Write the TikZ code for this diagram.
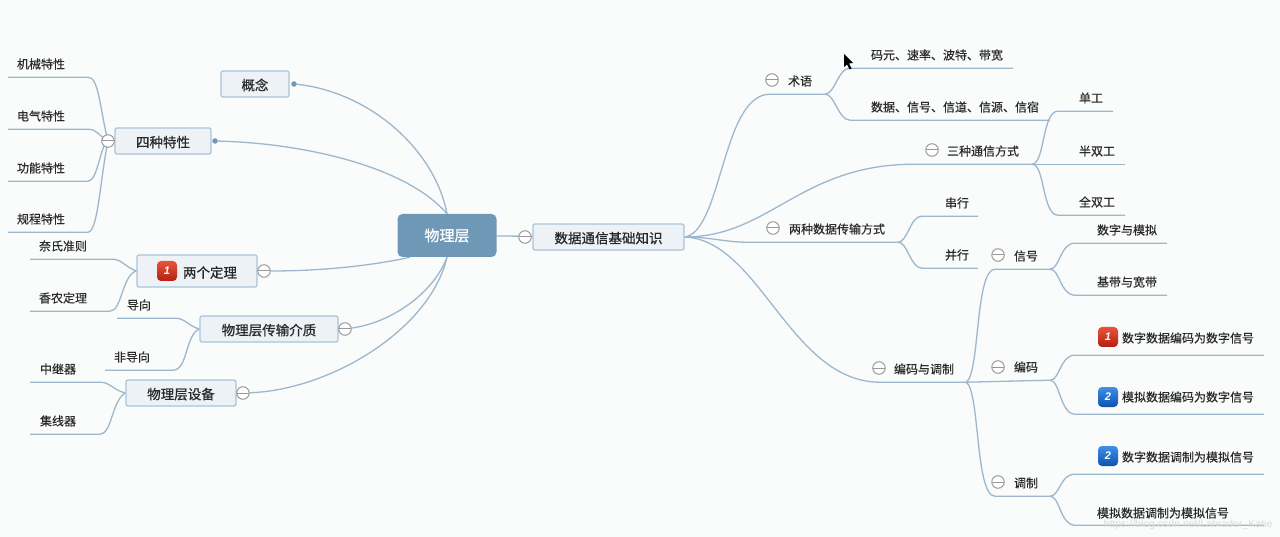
\documentclass[tikz,border=0pt]{standalone}
\usepackage{fontspec}
\setmainfont{Noto Sans CJK SC}
\newfontfamily\latinfont{Liberation Sans}
\newfontfamily\leaffont[FakeBold=0.35]{Noto Sans CJK SC}
\newfontfamily\topicfont[FakeBold=0.9]{Noto Sans CJK SC}
\usetikzlibrary{backgrounds}
\definecolor{paper}{HTML}{FAFBFB}
\definecolor{linkblue}{HTML}{9DB8CD}
\definecolor{boxline}{HTML}{A9C4DA}
\definecolor{boxfill}{HTML}{EDF2F7}
\definecolor{rootfill}{HTML}{6F98B6}
\definecolor{inkgray}{HTML}{2A2A2A}
\definecolor{redtop}{HTML}{E8543A}
\definecolor{redlow}{HTML}{B5200F}
\definecolor{bluetop}{HTML}{3F90EA}
\definecolor{bluelow}{HTML}{0E50AE}
\tikzset{
  link/.style={draw=linkblue, line width=1.3pt},
  leaf/.style={minimum height=26pt, inner sep=0pt, text=inkgray, font=\leaffont\fontsize{12}{12}\selectfont},
  topic/.style={draw=boxline, line width=1.2pt, fill=boxfill, rounded corners=2pt, inner sep=0pt, text=inkgray, text height=13pt, text depth=.5pt, font=\topicfont\fontsize{13.5}{14}\selectfont},
  fold/.style={circle, draw=gray!80, line width=1pt, fill=white, minimum size=12.5pt, inner sep=0pt,
    path picture={\draw[gray!80, line width=1pt] (path picture bounding box.west) -- (path picture bounding box.east);}},
  knob/.style={circle, fill=rootfill, minimum size=5.5pt, inner sep=0pt},
  prio/.style={rounded corners=4pt, minimum size=20pt, inner sep=0pt, text=white, font=\latinfont\fontsize{11}{12}\selectfont\bfseries\itshape},
  priored/.style={prio, top color=redtop, bottom color=redlow},
  prioblue/.style={prio, top color=bluetop, bottom color=bluelow}
}
\begin{document}
\begin{tikzpicture}[x = 1pt, y = -1pt]
\useasboundingbox (0,0) rectangle (1280,537);
\begin{scope}[on background layer]
\fill[paper] (0,0) rectangle (1280,537);
\end{scope}
% Root
\node[rounded corners=5pt, fill=rootfill, text=white, minimum width=99pt, minimum height=43pt, inner sep=0pt, font=\topicfont\fontsize{15}{16}\selectfont] (root) at (447,235.5) {物理层};
% Left topics
\node[topic, minimum width=68pt, minimum height=26pt] (concept) at (255,84) {概念};
\node[knob] (conceptdot) at (294,84) {};
\node[topic, minimum width=96pt, minimum height=26pt] (fourprop) at (163,141) {四种特性};
\node[knob] (fourdot) at (215,141) {};
\node[fold] (fourfold) at (108,141) {};
\node[topic, minimum width=120pt, minimum height=32pt] (theorem) at (197,271) {};
\node[priored] (theoremicon) at (167,271) {1};
\node[leaf, font=\topicfont\fontsize{13.5}{14}\selectfont] (theoremtext) at (210,272.5) {两个定理};
\node[fold] (theoremfold) at (264,271) {};
\node[topic, minimum width=138pt, minimum height=26pt] (media) at (269,329) {物理层传输介质};
\node[fold] (mediafold) at (345,329) {};
\node[topic, minimum width=110pt, minimum height=26pt] (device) at (181,393) {物理层设备};
\node[fold] (devicefold) at (243,393) {};
% Left leaves
\node[leaf] (mech) at (41,64) {机械特性};
\node[leaf] (elec) at (41,116) {电气特性};
\node[leaf] (func) at (41,168) {功能特性};
\node[leaf] (proc) at (41,219) {规程特性};
\node[leaf] (nyq) at (63,246) {奈氏准则};
\node[leaf] (shannon) at (63,298) {香农定理};
\node[leaf] (guided) at (139,305) {导向};
\node[leaf] (unguided) at (132,357) {非导向};
\node[leaf] (repeater) at (58,369) {中继器};
\node[leaf] (hubdev) at (58,421) {集线器};
% Hub
\node[topic, minimum width=151pt, minimum height=26pt] (basics) at (608.5,237) {数据通信基础知识};
\node[fold] (basicsfold) at (525,237) {};
% Right branches
\node[fold] (termfold) at (772,80) {};
\node[leaf] (term) at (800,81) {术语};
\node[fold] (modefold) at (932,150) {};
\node[leaf] (mode) at (983,151) {三种通信方式};
\node[fold] (transfold) at (773,228) {};
\node[leaf] (trans) at (837,229) {两种数据传输方式};
\node[fold] (codefold) at (879,368) {};
\node[leaf] (code) at (924,369) {编码与调制};
\node[fold] (signalfold) at (998,255) {};
\node[leaf] (signal) at (1026,256) {信号};
\node[fold] (encodefold) at (998,367) {};
\node[leaf] (encode) at (1026,367) {编码};
\node[fold] (modulfold) at (998,482) {};
\node[leaf] (modul) at (1026,483) {调制};
% Right leaves
\node[leaf] (baud) at (937,55) {码元、速率、波特、带宽};
\node[leaf] (chan) at (955,107) {数据、信号、信道、信源、信宿};
\node[leaf] (simplex) at (1091,98) {单工};
\node[leaf] (half) at (1097,151) {半双工};
\node[leaf] (full) at (1097,202) {全双工};
\node[leaf] (serial) at (957,203) {串行};
\node[leaf] (parallel) at (957,255) {并行};
\node[leaf] (digana) at (1127,230) {数字与模拟};
\node[leaf] (band) at (1127,282) {基带与宽带};
\node[priored] (ddicon) at (1108,337) {1};
\node[leaf, minimum height=34pt] (dd) at (1188,338) {数字数据编码为数字信号};
\node[prioblue] (adicon) at (1108,397) {2};
\node[leaf, minimum height=34pt] (ad) at (1188,397) {模拟数据编码为数字信号};
\node[prioblue] (daicon) at (1108,456) {2};
\node[leaf, minimum height=34pt] (da) at (1188,457) {数字数据调制为模拟信号};
\node[leaf, minimum height=24pt] (aa) at (1163,513) {模拟数据调制为模拟信号};
% Watermark and pointer
\node[text=gray!28, inner sep=0pt, font=\latinfont\fontsize{10.5}{11}\selectfont] (mark) at (1188,525) {https://blog.csdn.net/Labrador\_Katie};
\fill[black] (844,54) -- (844,67) -- (847,64.5) -- (849.5,69.5) -- (851.5,68.5) -- (849,63.5) -- (853,63) -- cycle;
\begin{scope}[on background layer]
% Links to root
\draw[link] (conceptdot) .. controls (370,92) and (435,150) .. (root.north);
\draw[link] (fourdot) .. controls (300,143) and (405,165) .. (root.north);
\draw[link] (theoremfold) .. controls (330,271) and (380,264) .. (root.south -| 410,0);
\draw[link] (mediafold) .. controls (395,322) and (435,290) .. (root.south);
\draw[link] (devicefold) .. controls (330,390) and (430,330) .. (root.south);
\draw[link] (root) -- (basics);
% Left fans
\draw[link] (fourfold.center) .. controls (100,110) and (99,77) .. (mech.south -| 88,0) -- (mech.south -| 8,0);
\draw[link] (fourfold.center) .. controls (100,137) and (97,129) .. (elec.south -| 88,0) -- (elec.south -| 8,0);
\draw[link] (fourfold.center) .. controls (100,145) and (98,181) .. (func.south -| 88,0) -- (func.south -| 8,0);
\draw[link] (fourfold.center) .. controls (100,180) and (98,232) .. (proc.south -| 88,0) -- (proc.south -| 8,0);
\draw[link] (theorem.west) .. controls (125,267) and (122,259) .. (nyq.south -| 112,0) -- (nyq.south -| 30,0);
\draw[link] (theorem.west) .. controls (122,275) and (122,311) .. (shannon.south -| 110,0) -- (shannon.south -| 30,0);
\draw[link] (media.west) .. controls (188,326) and (185,318) .. (guided.south -| 175,0) -- (guided.south -| 117,0);
\draw[link] (media.west) .. controls (185,335) and (188,370) .. (unguided.south -| 173,0) -- (unguided.south -| 105,0);
\draw[link] (device.west) .. controls (113,390) and (110,382) .. (repeater.south -| 100,0) -- (repeater.south -| 30,0);
\draw[link] (device.west) .. controls (112,400) and (112,434) .. (hubdev.south -| 100,0) -- (hubdev.south -| 30,0);
% Hub branches
\draw[link] (basics.east) .. controls (722,232) and (722,94) .. (term.south -| 770,0) -- (term.south -| 825,0);
\draw[link] (basics.east) .. controls (770,237) and (800,164) .. (mode.south -| 915,0) -- (mode.south -| 1032,0);
\draw[link] (basics.east) .. controls (710,237) and (725,242) .. (trans.south -| 745,0) -- (trans.south -| 898,0);
\draw[link] (basics.east) .. controls (760,240) and (790,382) .. (code.south -| 880,0) -- (code.south -| 966,0);
% Right fans
\draw[link] (term.south -| 825,0) .. controls (835,94) and (838,68) .. (baud.south -| 850,0) -- (baud.south -| 1013,0);
\draw[link] (term.south -| 825,0) .. controls (835,94) and (838,120) .. (chan.south -| 850,0) -- (chan.south -| 1050,0);
\draw[link] (mode.south -| 1032,0) .. controls (1045,164) and (1042,111) .. (simplex.south -| 1058,0) -- (simplex.south -| 1113,0);
\draw[link] (mode.south -| 1032,0) -- (half.south -| 1125,0);
\draw[link] (mode.south -| 1032,0) .. controls (1045,164) and (1042,215) .. (full.south -| 1058,0) -- (full.south -| 1125,0);
\draw[link] (trans.south -| 898,0) .. controls (908,242) and (910,216) .. (serial.south -| 922,0) -- (serial.south -| 978,0);
\draw[link] (trans.south -| 898,0) .. controls (908,242) and (910,268) .. (parallel.south -| 922,0) -- (parallel.south -| 978,0);
\draw[link] (code.south -| 966,0) .. controls (980,375) and (975,269) .. (signal.south -| 995,0) -- (signal.south -| 1050,0);
\draw[link] (code.south -| 966,0) -- (encode.south -| 1050,0);
\draw[link] (code.south -| 966,0) .. controls (980,390) and (975,496) .. (modul.south -| 995,0) -- (modul.south -| 1050,0);
\draw[link] (signal.south -| 1050,0) .. controls (1060,269) and (1060,243) .. (digana.south -| 1075,0) -- (digana.south -| 1167,0);
\draw[link] (signal.south -| 1050,0) .. controls (1060,269) and (1060,295) .. (band.south -| 1075,0) -- (band.south -| 1167,0);
\draw[link] (encode.south -| 1050,0) .. controls (1060,380) and (1060,355) .. (dd.south -| 1075,0) -- (dd.south -| 1264,0);
\draw[link] (encode.south -| 1050,0) .. controls (1060,380) and (1060,414) .. (ad.south -| 1075,0) -- (ad.south -| 1264,0);
\draw[link] (modul.south -| 1050,0) .. controls (1060,496) and (1060,474) .. (da.south -| 1075,0) -- (da.south -| 1264,0);
\draw[link] (modul.south -| 1050,0) .. controls (1060,496) and (1060,525) .. (aa.south -| 1075,0) -- (aa.south -| 1264,0);
\end{scope}
\end{tikzpicture}
\end{document}
